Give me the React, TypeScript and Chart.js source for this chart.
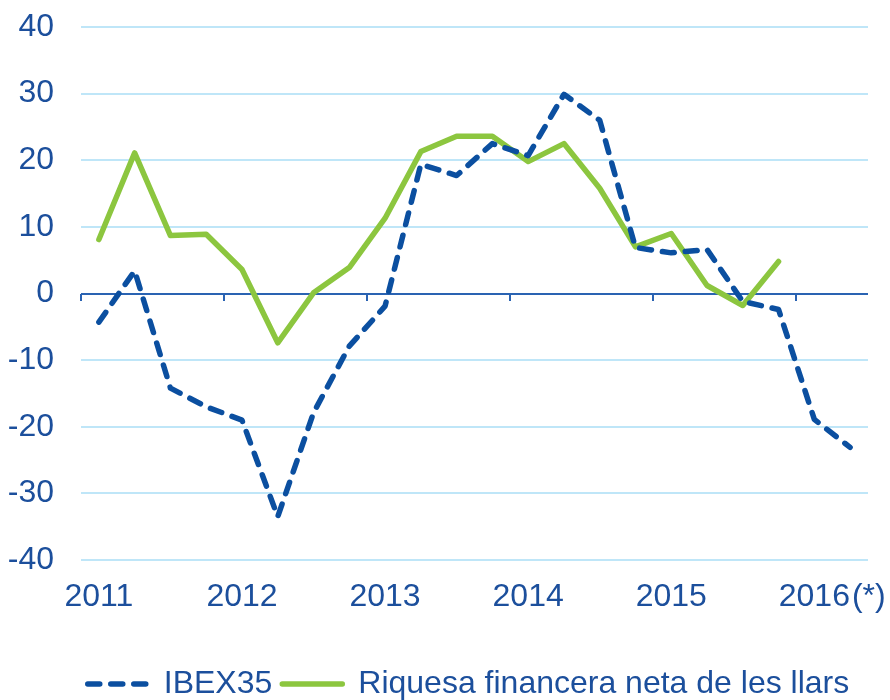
import { useEffect, useRef } from 'react';
import { Chart, registerables } from 'chart.js';

Chart.register(...registerables);

const quarters = [
  '2011 T1', '2011 T2', '2011 T3', '2011 T4',
  '2012 T1', '2012 T2', '2012 T3', '2012 T4',
  '2013 T1', '2013 T2', '2013 T3', '2013 T4',
  '2014 T1', '2014 T2', '2014 T3', '2014 T4',
  '2015 T1', '2015 T2', '2015 T3', '2015 T4',
  '2016 T1', '2016 T2',
];
const yearTickLabels = ['2011', '2012', '2013', '2014', '2015', '2016'];
const footnoteMark = '(*)';

const ibex35 = [
  -4.3, 3.4, -14.2, -17.0, -19.0, -33.5, -17.9, -7.9,
  -1.9, 19.4, 17.7, 22.5, 20.7, 29.9, 26.0, 6.9,
  6.1, 6.6, -1.2, -2.4, -18.9, -23.1,
];
const riquesa = [
  8.1, 21.1, 8.7, 8.9, 3.6, -7.4, 0.1, 3.9,
  11.3, 21.3, 23.6, 23.6, 19.8, 22.5, 15.8, 7.0,
  9.0, 1.2, -1.8, 4.8, null, null,
];
const seriesNames = ['IBEX35', 'Riquesa financera neta de les llars'];

const FONT = '"Liberation Sans", Arial, sans-serif';
const TEXT = '#1c4f9c';
const BLUE = '#0b4fa0';
const GREEN = '#8cc63f';
const GRID = '#bfe6f8';
const ZERO = '#2a63b2';
const LINE_W = 5.5;

const zeroPadding = (s: any) => {
  s.paddingTop = 0;
  s.paddingBottom = 0;
  s.paddingLeft = 0;
  s.paddingRight = 0;
};

const footnotePlugin = {
  id: 'footnote',
  afterLayout(chart: any) {
    const lg = chart.legend;
    if (lg) {
      lg.left -= 6;
      lg.right -= 6;
    }
  },
  afterDraw(chart: any) {
    const sc = chart.scales.x;
    const items = sc.getLabelItems ? sc.getLabelItems() : [];
    const item = items.find((it: any) => it.label === yearTickLabels[yearTickLabels.length - 1]);
    if (!item) return;
    const ctx = chart.ctx;
    ctx.save();
    ctx.font = `32px ${FONT}`;
    const w = ctx.measureText(item.label).width;
    const [tx, ty] = item.options.translation;
    ctx.fillStyle = TEXT;
    ctx.textAlign = 'left';
    ctx.textBaseline = item.options.textBaseline || 'middle';
    ctx.fillText(footnoteMark, tx + w / 2 + 2, ty + (item.textOffset || 0));
    ctx.restore();
  },
};

export default function App() {
  const ref = useRef<HTMLCanvasElement | null>(null);
  useEffect(() => {
    document.body.style.margin = '0';
    if (!ref.current) return;
    const chart = new Chart(ref.current, {
      type: 'line',
      data: {
        labels: quarters,
        datasets: [
          {
            label: seriesNames[0],
            data: ibex35,
            borderColor: BLUE,
            backgroundColor: BLUE,
            borderWidth: LINE_W,
            borderDash: [12, 11],
            borderCapStyle: 'round',
            borderJoinStyle: 'round',
            pointRadius: 0,
            pointHoverRadius: 0,
            tension: 0,
            fill: false,
          },
          {
            label: seriesNames[1],
            data: riquesa,
            borderColor: GREEN,
            backgroundColor: GREEN,
            borderWidth: LINE_W,
            borderCapStyle: 'round',
            borderJoinStyle: 'round',
            pointRadius: 0,
            pointHoverRadius: 0,
            tension: 0,
            fill: false,
          },
        ],
      },
      options: {
        responsive: false,
        animation: false,
        layout: { padding: { top: 27, right: 22, left: 0, bottom: -10 } },
        plugins: {
          tooltip: { enabled: false },
          legend: {
            position: 'bottom',
            fullSize: false,
            labels: {
              usePointStyle: true,
              pointStyle: 'line',
              pointStyleWidth: 60,
              padding: 10,
              color: TEXT,
              font: { family: FONT, size: 32 },
              generateLabels: (c: any) =>
                c.data.datasets.map((ds: any, i: number) => ({
                  text: ds.label,
                  fillStyle: ds.borderColor,
                  strokeStyle: ds.borderColor,
                  lineWidth: LINE_W,
                  lineDash: ds.borderDash || [],
                  lineCap: 'round',
                  pointStyle: 'line',
                  hidden: false,
                  datasetIndex: i,
                  fontColor: TEXT,
                })),
            },
          },
        },
        scales: {
          x: {
            type: 'category',
            offset: true,
            grid: { display: false },
            border: { display: false },
            ticks: {
              autoSkip: false,
              maxRotation: 0,
              padding: 10,
              color: TEXT,
              font: { family: FONT, size: 32 },
              callback: (_v: any, i: number) => (i % 4 === 0 ? yearTickLabels[i / 4] : ''),
            },
            afterFit: (s: any) => {
              s.height = 98;
              zeroPadding(s);
            },
          },
          x2: {
            type: 'category',
            axis: 'x',
            position: { y: 0 },
            offset: true,
            grid: {
              offset: true,
              drawOnChartArea: false,
              tickLength: 7,
              lineWidth: 2,
              color: (c: any) => (typeof c.index === 'number' && c.index % 4 === 0 ? ZERO : 'rgba(0,0,0,0)'),
            },
            ticks: { display: false, autoSkip: false },
            border: { display: false },
            afterFit: (s: any) => {
              zeroPadding(s);
            },
          },
          y: {
            min: -40,
            max: 40,
            ticks: {
              stepSize: 10,
              padding: 27,
              color: TEXT,
              font: { family: FONT, size: 32 },
            },
            grid: {
              drawTicks: false,
              lineWidth: 2,
              color: (c: any) => (c.tick && c.tick.value === 0 ? ZERO : GRID),
            },
            border: { display: false },
            afterFit: (s: any) => {
              s.width = 81;
              zeroPadding(s);
            },
          },
        },
      },
      plugins: [footnotePlugin],
    } as any);
    return () => chart.destroy();
  }, []);
  return (
    <div style={{ width: 890, height: 700 }}>
      <canvas ref={ref} width={890} height={700} style={{ display: 'block' }} />
    </div>
  );
}
